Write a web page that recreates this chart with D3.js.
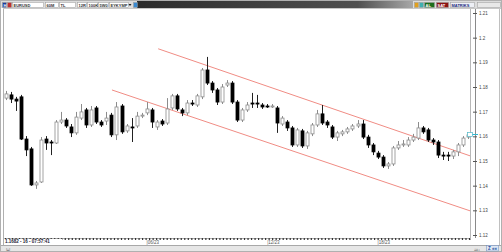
<!DOCTYPE html>
<html>
<head>
<meta charset="utf-8">
<script src="https://cdn.jsdelivr.net/npm/d3@7"></script>
<style>
body { margin: 0; background: #fff; }
svg { display: block; font-family: "Liberation Sans", Arial, sans-serif; }
</style>
</head>
<body>
<svg id="chart" width="502" height="252"></svg>
<script>
// candle data (EURUSD)
var opens = [1.1755, 1.1768, 1.1751, 1.1760, 1.1589, 1.1549, 1.1403, 1.1415, 1.1589, 1.1577,
    1.1573, 1.1658, 1.1666, 1.1638, 1.1614, 1.1674, 1.1707, 1.1646, 1.1715, 1.1658,
    1.1662, 1.1686, 1.1606, 1.1723, 1.1622, 1.1638, 1.1642, 1.1682, 1.1695, 1.1707,
    1.1638, 1.1662, 1.1654, 1.1715, 1.1764, 1.1707, 1.1695, 1.1735, 1.1727, 1.1760,
    1.1869, 1.1816, 1.1788, 1.1739, 1.1808, 1.1816, 1.1739, 1.1666, 1.1707, 1.1735,
    1.1735, 1.1727, 1.1723, 1.1719, 1.1715, 1.1650, 1.1658, 1.1634, 1.1565, 1.1622,
    1.1561, 1.1610, 1.1646, 1.1691, 1.1658, 1.1638, 1.1597, 1.1610, 1.1618, 1.1630,
    1.1642, 1.1650, 1.1597, 1.1565, 1.1532, 1.1516, 1.1480, 1.1488, 1.1553, 1.1565,
    1.1565, 1.1585, 1.1593, 1.1634, 1.1626, 1.1585, 1.1577, 1.1524, 1.1524, 1.1520,
    1.1537, 1.1565, 1.1597];
var highs = [1.1784, 1.1780, 1.1760, 1.1768, 1.1601, 1.1557, 1.1419, 1.1597, 1.1601, 1.1585,
    1.1666, 1.1699, 1.1674, 1.1650, 1.1699, 1.1731, 1.1715, 1.1723, 1.1723, 1.1666,
    1.1699, 1.1695, 1.1739, 1.1731, 1.1650, 1.1674, 1.1699, 1.1695, 1.1739, 1.1715,
    1.1666, 1.1670, 1.1755, 1.1772, 1.1772, 1.1715, 1.1747, 1.1747, 1.1772, 1.1877,
    1.1922, 1.1824, 1.1796, 1.1812, 1.1828, 1.1824, 1.1747, 1.1715, 1.1739, 1.1776,
    1.1768, 1.1735, 1.1731, 1.1731, 1.1723, 1.1682, 1.1666, 1.1642, 1.1634, 1.1630,
    1.1622, 1.1654, 1.1707, 1.1727, 1.1666, 1.1646, 1.1622, 1.1626, 1.1638, 1.1650,
    1.1666, 1.1666, 1.1606, 1.1573, 1.1541, 1.1524, 1.1496, 1.1561, 1.1581, 1.1585,
    1.1597, 1.1610, 1.1658, 1.1642, 1.1634, 1.1593, 1.1585, 1.1537, 1.1537, 1.1545,
    1.1573, 1.1601, 1.1614];
var lows = [1.1747, 1.1735, 1.1703, 1.1585, 1.1520, 1.1399, 1.1387, 1.1411, 1.1545, 1.1524,
    1.1569, 1.1650, 1.1634, 1.1597, 1.1606, 1.1666, 1.1634, 1.1638, 1.1650, 1.1638,
    1.1646, 1.1597, 1.1585, 1.1610, 1.1614, 1.1577, 1.1634, 1.1674, 1.1686, 1.1634,
    1.1626, 1.1642, 1.1646, 1.1707, 1.1703, 1.1682, 1.1686, 1.1723, 1.1719, 1.1751,
    1.1808, 1.1776, 1.1727, 1.1731, 1.1800, 1.1731, 1.1658, 1.1658, 1.1699, 1.1715,
    1.1715, 1.1711, 1.1715, 1.1715, 1.1614, 1.1642, 1.1622, 1.1557, 1.1557, 1.1553,
    1.1549, 1.1601, 1.1638, 1.1646, 1.1634, 1.1589, 1.1581, 1.1601, 1.1610, 1.1622,
    1.1634, 1.1589, 1.1553, 1.1524, 1.1508, 1.1472, 1.1468, 1.1480, 1.1545, 1.1557,
    1.1557, 1.1577, 1.1585, 1.1610, 1.1577, 1.1565, 1.1512, 1.1504, 1.1500, 1.1508,
    1.1520, 1.1557, 1.1589];
var closes = [1.1772, 1.1751, 1.1743, 1.1589, 1.1545, 1.1403, 1.1411, 1.1585, 1.1573, 1.1573,
    1.1658, 1.1666, 1.1642, 1.1614, 1.1678, 1.1699, 1.1646, 1.1707, 1.1658, 1.1646,
    1.1674, 1.1606, 1.1719, 1.1618, 1.1642, 1.1636, 1.1682, 1.1686, 1.1711, 1.1658,
    1.1658, 1.1650, 1.1711, 1.1764, 1.1711, 1.1695, 1.1735, 1.1733, 1.1764, 1.1869,
    1.1816, 1.1788, 1.1739, 1.1800, 1.1816, 1.1739, 1.1666, 1.1707, 1.1727, 1.1733,
    1.1733, 1.1719, 1.1721, 1.1723, 1.1654, 1.1674, 1.1634, 1.1565, 1.1626, 1.1561,
    1.1614, 1.1646, 1.1691, 1.1654, 1.1646, 1.1597, 1.1614, 1.1618, 1.1630, 1.1642,
    1.1650, 1.1597, 1.1565, 1.1537, 1.1516, 1.1480, 1.1488, 1.1553, 1.1565, 1.1569,
    1.1585, 1.1597, 1.1634, 1.1618, 1.1585, 1.1577, 1.1524, 1.1522, 1.1520, 1.1537,
    1.1565, 1.1593, 1.1606];

var priceTicks = [1.12, 1.13, 1.14, 1.15, 1.16, 1.17, 1.18, 1.19, 1.2, 1.21];
var timeLabelIdx = [28, 52, 74];
var timeLabels = ["06/23", "12/23", "18/23"];
// channel lines as [candle index, price]
var upperChannel = [[30.3, 1.1955], [92.4, 1.1521]];
var lowerChannel = [[21.1, 1.1788], [92.4, 1.1298]];
var lastPrice = 1.1606;
var statusText = "1.1682 - 16 - 07:57:41";

var svg = d3.select("#chart"),
    plot = { left: 4, right: 470, top: 9, bottom: 238 };

var x = d3.scaleLinear()
    .domain([-0.4, 92.4])
    .range([plot.left, plot.right]);

var y = d3.scaleLinear()
    .domain([1.12, 1.21])
    .range([235, 13]);

var defs = svg.append("defs");
defs.append("clipPath").attr("id", "plotclip")
    .append("rect")
    .attr("x", plot.left).attr("y", plot.top)
    .attr("width", plot.right - plot.left).attr("height", plot.bottom - plot.top);

var grad = defs.append("linearGradient").attr("id", "bargrad");
grad.append("stop").attr("offset", "0%").attr("stop-color", "#2c2c2c");
grad.append("stop").attr("offset", "80%").attr("stop-color", "#505050");
grad.append("stop").attr("offset", "100%").attr("stop-color", "#a8a8a8");

// frame
svg.append("rect").attr("x", 0).attr("y", 0).attr("width", 502).attr("height", 252).attr("fill", "#fff");
svg.append("rect").attr("x", 0.5).attr("y", 0.5).attr("width", 501).attr("height", 251)
    .attr("fill", "none").attr("stroke", "#b0b0b0");

// toolbar
svg.append("rect").attr("x", 1).attr("y", 1).attr("width", 500).attr("height", 7).attr("fill", "#dcdcdc");
svg.append("rect").attr("x", 137).attr("y", 1).attr("width", 276).attr("height", 7).attr("fill", "url(#bargrad)");

var toolBoxes = [
    { x: 2, w: 4, t: "H", fill: "#1c3c9c", col: "#fff" },
    { x: 7, w: 4, t: "", fill: "#c03030", col: "#fff" },
    { x: 12, w: 31, t: "EURUSD", fill: "#fff", col: "#333" },
    { x: 45, w: 13, t: "60M", fill: "#fff", col: "#333" },
    { x: 59, w: 16, t: "TL", fill: "#fff", col: "#333" },
    { x: 77, w: 9, t: "12R", fill: "#fff", col: "#333" },
    { x: 87, w: 10, t: "100K", fill: "#fff", col: "#333" },
    { x: 98, w: 10, t: "5W0", fill: "#fff", col: "#333" },
    { x: 109, w: 19, t: "EYKYMP", fill: "#fff", col: "#333" },
    { x: 133, w: 4, t: "", fill: "#3a8ad0", col: "#fff" },
    { x: 414, w: 4, t: "", fill: "#e0a020", col: "#fff" },
    { x: 419, w: 4, t: "", fill: "#40b0b0", col: "#fff" },
    { x: 424, w: 10, t: "AL", fill: "#1d6e1d", col: "#fff" },
    { x: 436, w: 12, t: "SAT", fill: "#8c1414", col: "#fff" },
    { x: 450, w: 24, t: "MATRIKS", fill: "#eef0f6", col: "#1c2c7c" },
    { x: 477, w: 23, t: "", fill: "#e8e8e8", col: "#999" }
];
var tb = svg.append("g").selectAll("g").data(toolBoxes).enter().append("g");
tb.append("rect")
    .attr("x", function (d) { return d.x + 0.5; })
    .attr("y", 2.5)
    .attr("width", function (d) { return d.w; })
    .attr("height", 5)
    .attr("fill", function (d) { return d.fill; })
    .attr("stroke", "#9a9a9a")
    .attr("stroke-width", 0.5);
tb.append("text")
    .attr("x", function (d) { return d.x + 1.5; })
    .attr("y", 6.6)
    .attr("font-size", 4)
    .attr("font-weight", "bold")
    .attr("fill", function (d) { return d.col; })
    .text(function (d) { return d.t; });
svg.append("path").attr("d", "M128.5,4 L131.5,4 L130,6 Z").attr("fill", "#222");

// plot borders
svg.append("line").attr("x1", 3.5).attr("x2", 3.5).attr("y1", 8).attr("y2", 246).attr("stroke", "#b0b0b0");
svg.append("line").attr("x1", 3).attr("x2", 501).attr("y1", 8.5).attr("y2", 8.5).attr("stroke", "#c8c8c8");
svg.append("line").attr("x1", plot.right + 0.5).attr("x2", plot.right + 0.5)
    .attr("y1", plot.top).attr("y2", plot.bottom).attr("stroke", "#b8b8b8");
svg.append("line").attr("x1", 475.5).attr("x2", 475.5)
    .attr("y1", plot.top).attr("y2", plot.bottom).attr("stroke", "#8a8a8a");
svg.append("line").attr("x1", 499.5).attr("x2", 499.5)
    .attr("y1", plot.top).attr("y2", 246).attr("stroke", "#c0c0c0");

// price axis
var yAxis = svg.append("g")
    .attr("transform", "translate(473,0)")
    .call(d3.axisRight(y).tickValues(priceTicks).tickSize(4).tickPadding(2)
        .tickFormat(function (d) { return String(+d.toFixed(2)); }));
yAxis.select(".domain").remove();
yAxis.selectAll(".tick line").attr("stroke", "#555");
yAxis.selectAll(".tick text").attr("font-size", 4.5).attr("fill", "#444")
    .attr("font-family", "\"Liberation Sans\", Arial, sans-serif");

// channels
var chan = d3.line()
    .x(function (d) { return x(d[0]); })
    .y(function (d) { return y(d[1]); });
var g = svg.append("g").attr("clip-path", "url(#plotclip)");
[upperChannel, lowerChannel].forEach(function (c) {
    g.append("path")
        .attr("d", chan(c))
        .attr("fill", "none")
        .attr("stroke", "#f08c84")
        .attr("stroke-width", 1);
});

// candles
var candles = d3.range(opens.length).map(function (i) {
    return { i: i, o: opens[i], h: highs[i], l: lows[i], c: closes[i] };
});
var cg = g.append("g").selectAll("g").data(candles).enter().append("g");
cg.append("line")
    .attr("x1", function (d) { return Math.round(x(d.i)) + 0.5; })
    .attr("x2", function (d) { return Math.round(x(d.i)) + 0.5; })
    .attr("y1", function (d) { return y(d.h); })
    .attr("y2", function (d) { return y(d.l); })
    .attr("stroke", function (d) { return d.c >= d.o ? "#8c8c8c" : "#222"; });
cg.append("rect")
    .attr("x", function (d) { return Math.round(x(d.i)) - 1; })
    .attr("y", function (d) { return y(Math.max(d.o, d.c)); })
    .attr("width", 3)
    .attr("height", function (d) { return Math.max(1, Math.abs(y(d.o) - y(d.c))); })
    .attr("fill", function (d) { return d.c >= d.o ? "#fff" : "#000"; })
    .attr("stroke", function (d) { return d.c >= d.o ? "#8c8c8c" : "#000"; })
    .attr("stroke-width", 0.8);

// last price marker
svg.append("rect").attr("x", 467.5).attr("y", Math.round(y(lastPrice)) - 2.5)
    .attr("width", 5).attr("height", 4).attr("fill", "#fff").attr("stroke", "#50b8c8").attr("stroke-width", 0.7);
svg.append("line").attr("x1", 472.5).attr("x2", 478)
    .attr("y1", Math.round(y(lastPrice)) - 0.5).attr("y2", Math.round(y(lastPrice)) - 0.5)
    .attr("stroke", "#30b8d0");

// time axis
var xAxis = svg.append("g")
    .attr("transform", "translate(0," + plot.bottom + ")")
    .call(d3.axisBottom(x).tickValues(d3.range(-0.2, 92.4, 0.7)).tickSize(2).tickFormat(""));
xAxis.select(".domain").attr("stroke", "#b0b0b0");
xAxis.selectAll(".tick line").attr("stroke", "#333").attr("stroke-width", 1.2);

svg.append("rect").attr("x", 4).attr("y", 239).attr("width", 58).attr("height", 5).attr("fill", "#fff");
svg.append("text").attr("x", 5).attr("y", 243)
    .attr("font-size", 4.5).attr("font-weight", "bold").attr("fill", "#223")
    .text(statusText);

svg.append("g").selectAll("text").data(timeLabelIdx).enter().append("text")
    .attr("x", function (d) { return x(d); })
    .attr("y", 244)
    .attr("font-size", 4.5)
    .attr("fill", "#555")
    .text(function (d, i) { return "|" + timeLabels[i]; });

// status bar
svg.append("rect").attr("x", 1).attr("y", 246).attr("width", 500).attr("height", 5).attr("fill", "#e6e6e6");
svg.append("line").attr("x1", 1).attr("x2", 501).attr("y1", 245.5).attr("y2", 245.5).attr("stroke", "#a8a8a8");
svg.append("text").attr("x", 6).attr("y", 250.5).attr("font-size", 4).attr("fill", "#666").text("لقا");
svg.append("text").attr("x", 474).attr("y", 250.5).attr("font-size", 4).attr("fill", "#666").text("دقة");
svg.append("rect").attr("x", 486.5).attr("y", 245.5).attr("width", 12).attr("height", 5.5)
    .attr("fill", "#dfe8f4").attr("stroke", "#6a8ac0").attr("stroke-width", 0.5);
svg.append("text").attr("x", 488).attr("y", 250).attr("font-size", 4.5).attr("font-weight", "bold")
    .attr("fill", "#1a4ca0").text("Z ««");
</script>
</body>
</html>
